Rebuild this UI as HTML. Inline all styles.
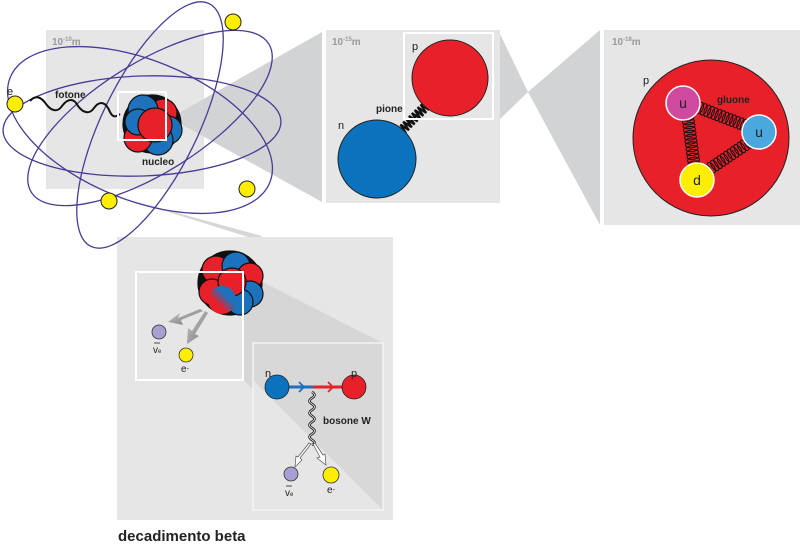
<!DOCTYPE html>
<html><head><meta charset="utf-8"><style>
html,body{margin:0;padding:0;background:#fff;width:800px;height:548px;overflow:hidden}
svg{display:block}
text{font-family:"Liberation Sans",sans-serif}
</style></head><body>
<svg width="800" height="548" viewBox="0 0 800 548" xmlns="http://www.w3.org/2000/svg">
<defs>
<linearGradient id="pn" x1="0" y1="1" x2="1" y2="0"><stop offset="0.35" stop-color="#e8202a"/><stop offset="0.65" stop-color="#1d72bd"/></linearGradient>
<linearGradient id="ar" x1="0" y1="0" x2="1" y2="1"><stop offset="0" stop-color="#c8c8c8"/><stop offset="1" stop-color="#777"/></linearGradient>
</defs>
<rect x="46" y="30" width="158" height="159" fill="#e6e6e6"/>
<text x="52" y="45" font-size="10" font-weight="bold" fill="#999">10<tspan font-size="6" dy="-4">-10</tspan><tspan dy="4">m</tspan></text>
<polygon points="170,118 322,32 322,202" fill="#d2d3d5"/>
<rect x="326" y="30" width="174" height="173" fill="#e6e6e6"/>
<polygon points="130,200 262,236 258,240" fill="#d6d6d6"/>
<rect x="117" y="237" width="276" height="283" fill="#e6e6e6"/>
<polygon points="500,34 528,92 500,119" fill="#d2d3d5"/>
<polygon points="528,92 600,30 600,225" fill="#d2d3d5"/>
<rect x="604" y="30" width="196" height="195" fill="#e6e6e6"/>

<g fill="none" stroke="#4b3a96" stroke-width="1.3">
<ellipse cx="142" cy="126" rx="139" ry="50" transform="rotate(-2 142 126)"/>
<ellipse cx="140" cy="130" rx="140" ry="70" transform="rotate(22 140 130)"/>
<ellipse cx="150" cy="118" rx="140" ry="55" transform="rotate(-32 150 118)"/>
<ellipse cx="150" cy="125" rx="135" ry="48" transform="rotate(-64 150 125)"/>
</g>
<g fill="#ffee00" stroke="#222" stroke-width="1">
<circle cx="233" cy="22" r="8"/><circle cx="15" cy="104" r="8"/><circle cx="247" cy="189" r="8"/><circle cx="109" cy="201" r="8"/>
</g>
<text x="7" y="95" font-size="11" fill="#222">e</text>
<text x="55" y="98" font-size="10" font-weight="bold" fill="#222">fotone</text>
<path d="M30,101 C36,94 42,98 46,104 C52,112 58,112 62,106 C68,98 74,98 78,106 C84,114 90,114 94,108 C100,100 106,102 110,112 C113,118 116,117 120,114" fill="none" stroke="#111" stroke-width="2"/>
<g stroke="#111" stroke-width="1.2">
<circle cx="152" cy="124" r="29" fill="#111"/>
<circle cx="163" cy="113" r="14" fill="#e8202a"/>
<circle cx="168" cy="130" r="14" fill="#1d72bd"/>
<circle cx="158" cy="140" r="15" fill="#1d72bd"/>
<circle cx="138" cy="138" r="14" fill="#e8202a"/>
<circle cx="143" cy="110" r="15" fill="#1d72bd"/>
<circle cx="138" cy="122" r="13" fill="#1d72bd"/>
<circle cx="155" cy="125" r="17" fill="#e8202a"/>
</g>
<rect x="118" y="92" width="48" height="48" fill="none" stroke="#fff" stroke-width="2"/>
<text x="142" y="165" font-size="10" font-weight="bold" fill="#222">nucleo</text>

<text x="332" y="45" font-size="10" font-weight="bold" fill="#999">10<tspan font-size="6" dy="-4">-15</tspan><tspan dy="4">m</tspan></text>
<g id="spring" fill="none" stroke="#111" stroke-width="2.2"></g>
<rect x="404" y="33" width="89" height="86" fill="none" stroke="#fff" stroke-width="2"/>
<circle cx="450" cy="78" r="38" fill="#e8202a" stroke="#222" stroke-width="1"/>
<circle cx="377" cy="159" r="39" fill="#0b73bd" stroke="#222" stroke-width="1"/>
<text x="412" y="50" font-size="11" fill="#222">p</text>
<text x="338" y="129" font-size="11" fill="#222">n</text>
<text x="376" y="112" font-size="10" font-weight="bold" fill="#222">pione</text>

<text x="612" y="45" font-size="10" font-weight="bold" fill="#999">10<tspan font-size="6" dy="-4">-18</tspan><tspan dy="4">m</tspan></text>
<text x="643" y="84" font-size="11" fill="#222">p</text>
<circle cx="711" cy="138" r="78" fill="#e8202a" stroke="#222" stroke-width="1"/>
<g id="coils" fill="none" stroke="#111" stroke-width="1"></g>
<text x="717" y="103" font-size="10" font-weight="bold" fill="#222">gluone</text>
<circle cx="683" cy="103" r="17" fill="#cf4a9f" stroke="#fff" stroke-width="1.5"/>
<circle cx="759" cy="132" r="17" fill="#4aa8de" stroke="#fff" stroke-width="1.5"/>
<circle cx="697" cy="180" r="17" fill="#ffee00" stroke="#fff" stroke-width="1.5"/>
<text x="683" y="108" font-size="14" fill="#222" text-anchor="middle">u</text>
<text x="759" y="137" font-size="14" fill="#222" text-anchor="middle">u</text>
<text x="697" y="185" font-size="14" fill="#222" text-anchor="middle">d</text>

<polygon points="243,272 383,343 383,510 243,380" fill="#d6d6d6"/>
<polygon points="253,343 383,343 383,510 253,380" fill="#d8d8d8"/>
<polygon points="253,380 383,510 253,510" fill="#e6e6e6"/>
<rect x="253" y="343" width="130" height="167" fill="none" stroke="#f4f4f4" stroke-width="1.5"/>
<g stroke="#111" stroke-width="1.2">
<circle cx="230" cy="283" r="32" fill="#111"/>
<circle cx="216" cy="270" r="14" fill="#e8202a"/>
<circle cx="236" cy="266" r="14" fill="#1d72bd"/>
<circle cx="250" cy="276" r="13" fill="#e8202a"/>
<circle cx="250" cy="294" r="13" fill="#1d72bd"/>
<circle cx="240" cy="302" r="13" fill="#1d72bd"/>
<circle cx="212" cy="292" r="13" fill="#e8202a"/>
<circle cx="232" cy="282" r="14" fill="#e8202a"/>
<circle cx="222" cy="300" r="14" fill="url(#pn)" stroke="none"/>
</g>
<rect x="136" y="272" width="107" height="108" fill="none" stroke="#fff" stroke-width="2"/>
<path d="M200,309 L178,318 L180,313 L168,322 L183,325 L181,320 L203,311Z" fill="url(#ar)"/>
<path d="M205,311 L192,331 L188,328 L187,344 L199,336 L195,334 L208,313Z" fill="url(#ar)"/>
<circle cx="159" cy="332" r="7" fill="#a99fd2" stroke="#333" stroke-width="0.8"/>
<circle cx="186" cy="355" r="7" fill="#ffee00" stroke="#333" stroke-width="0.8"/>
<line x1="154" y1="343" x2="160" y2="343" stroke="#222" stroke-width="0.8"/>
<text x="153" y="353" font-size="10" fill="#222">v<tspan font-size="6">e</tspan></text>
<text x="181" y="372" font-size="10" fill="#222">e<tspan font-size="7" dy="-1">-</tspan></text>

<line x1="287" y1="387" x2="313" y2="387" stroke="#1d72bd" stroke-width="3"/>
<line x1="313" y1="387" x2="345" y2="387" stroke="#e8202a" stroke-width="3"/>
<path d="M299,382 l5,5 l-5,5" fill="none" stroke="#1d72bd" stroke-width="1.8"/>
<path d="M328,382 l5,5 l-5,5" fill="none" stroke="#e8202a" stroke-width="1.8"/>
<circle cx="277" cy="387" r="12" fill="#0b73bd" stroke="#222" stroke-width="0.8"/>
<circle cx="354" cy="387" r="12" fill="#e8202a" stroke="#222" stroke-width="0.8"/>
<text x="265" y="377" font-size="11" fill="#222">n</text>
<text x="351" y="377" font-size="11" fill="#222">p</text>
<path d="M312,392 q5,3 0,6 q-5,3 0,6 q5,3 0,6 q-5,3 0,6 q5,3 0,6 q-5,3 0,6 q5,3 0,6 q-5,3 0,6 q5,3 0,5" fill="none" stroke="#111" stroke-width="2.5"/>
<path d="M312,392 q5,3 0,6 q-5,3 0,6 q5,3 0,6 q-5,3 0,6 q5,3 0,6 q-5,3 0,6 q5,3 0,6 q-5,3 0,6 q5,3 0,5" fill="none" stroke="#fff" stroke-width="0.8"/>
<text x="323" y="424" font-size="10" font-weight="bold" fill="#222">bosone W</text>
<path d="M311,444 L300,458 L302,460 L295,467 L296,456 L298,457 L309,443Z" fill="#fff" stroke="#555" stroke-width="0.7"/>
<path d="M313,444 L320,457 L317,458 L326,465 L325,454 L323,455 L315,443Z" fill="#fff" stroke="#555" stroke-width="0.7"/>
<circle cx="291" cy="474" r="7" fill="#a99fd2" stroke="#333" stroke-width="0.8"/>
<circle cx="331" cy="475" r="8" fill="#ffee00" stroke="#333" stroke-width="0.8"/>
<line x1="286" y1="486" x2="292" y2="486" stroke="#222" stroke-width="0.8"/>
<text x="285" y="496" font-size="10" fill="#222">v<tspan font-size="6">e</tspan></text>
<text x="327" y="493" font-size="10" fill="#222">e<tspan font-size="7" dy="-1">-</tspan></text>

<text x="118" y="541" font-size="15" font-weight="bold" fill="#222">decadimento beta</text>
</svg>
<script>
(function(){
 var ns='http://www.w3.org/2000/svg';
 var g=document.getElementById('coils');
 function coil(x1,y1,x2,y2,n){for(var i=0;i<=n;i++){var t=i/n;var c=document.createElementNS(ns,'ellipse');
 var x=x1+(x2-x1)*t,y=y1+(y2-y1)*t,a=Math.atan2(y2-y1,x2-x1)*180/Math.PI;
 c.setAttribute('cx',x);c.setAttribute('cy',y);c.setAttribute('rx',3);c.setAttribute('ry',6);
 c.setAttribute('transform','rotate('+a+' '+x+' '+y+')');g.appendChild(c);}}
 coil(700,108,744,125,12);coil(688,118,694,164,12);coil(708,170,748,143,12);
 var s=document.getElementById('spring');
 var x1=401,y1=131,x2=427,y2=105,n=9,d='';
 var dx=(x2-x1),dy=(y2-y1),L=Math.hypot(dx,dy),ux=dx/L,uy=dy/L,px=-uy,py=ux;
 for(var i=0;i<=n*2;i++){var t=i/(n*2),a=(i%2?5:-5);
  var x=x1+dx*t+px*a,y=y1+dy*t+py*a;d+=(i?'L':'M')+x.toFixed(1)+','+y.toFixed(1);}
 var p=document.createElementNS(ns,'path');p.setAttribute('d',d);s.appendChild(p);
})();
</script>
</body></html>
